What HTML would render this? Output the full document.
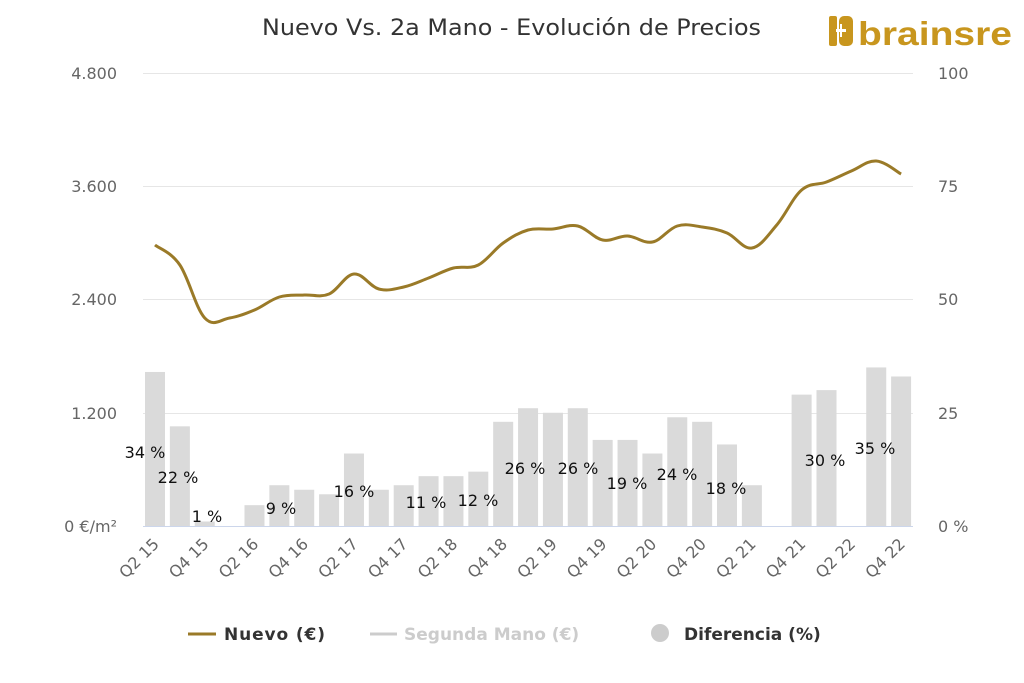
<!DOCTYPE html>
<html><head><meta charset="utf-8"><style>
html,body{margin:0;padding:0;background:#fff;}
svg{display:block;font-family:"DejaVu Sans","Liberation Sans",sans-serif;}
</style></head><body>
<svg id="c" width="1024" height="683" viewBox="0 0 1024 683" xmlns="http://www.w3.org/2000/svg">
<rect width="1024" height="683" fill="#fff"/>
<text x="262" y="35" font-size="22" fill="#333" textLength="499" lengthAdjust="spacingAndGlyphs">Nuevo Vs. 2a Mano - Evolución de Precios</text>
<g fill="#c8961e">
<rect x="829" y="16" width="8" height="30" rx="2"/>
<rect x="839" y="16" width="14" height="30" rx="5"/>
<text x="858" y="45" font-size="33" font-weight="bold" font-family="Liberation Sans,sans-serif" textLength="154" lengthAdjust="spacingAndGlyphs">brainsre</text>
</g>
<rect x="836" y="29" width="10" height="3" fill="#fff"/><rect x="840" y="24" width="2" height="13" fill="#fff"/>
<g stroke="#e6e6e6" stroke-width="1">
<line x1="143" x2="913" y1="73.5" y2="73.5"/>
<line x1="143" x2="913" y1="186.5" y2="186.5"/>
<line x1="143" x2="913" y1="299.5" y2="299.5"/>
<line x1="143" x2="913" y1="413.5" y2="413.5"/>
</g>
<g font-size="16" fill="#666" text-anchor="end">
<text x="117" y="79">4.800</text><text x="117" y="192">3.600</text><text x="117" y="305">2.400</text><text x="117" y="419">1.200</text><text x="117" y="532">0 €/m²</text>
</g>
<g font-size="16" fill="#666" text-anchor="start">
<text x="938" y="79">100</text><text x="938" y="192">75</text><text x="938" y="305">50</text><text x="938" y="419">25</text><text x="938" y="532">0 %</text>
</g>
<g id="bars" fill="#dadada"></g>
<line x1="143" x2="913" y1="526.5" y2="526.5" stroke="#ccd6eb"/>
<path id="ln" fill="none" stroke="#9a7a28" stroke-width="3" stroke-linejoin="round"/>
<g id="lbl" font-size="16" fill="#111" text-anchor="middle"></g>
<g id="xl" font-size="16" fill="#666" text-anchor="end"></g>
<g font-size="17" font-weight="bold">
<line x1="188" x2="216" y1="634" y2="634" stroke="#9a7a28" stroke-width="3"/>
<text x="224" y="640" fill="#333" textLength="101">Nuevo (€)</text>
<line x1="370" x2="397" y1="634" y2="634" stroke="#ccc" stroke-width="3"/>
<text x="404" y="640" fill="#ccc">Segunda Mano (€)</text>
<circle cx="660" cy="633" r="9" fill="#ccc"/>
<text x="684" y="640" fill="#333">Diferencia (%)</text>
</g>
</svg>
<script>
var ns="http://www.w3.org/2000/svg";
function X(i){return 155+i*24.87;}
var pct=[34,22,1,0,4.6,9,8,7,16,8,9,11,11,12,23,26,25,26,19,19,16,24,23,18,9,0,29,30,0,35,33];
var bars=document.getElementById('bars');
pct.forEach(function(p,i){if(!p)return;var h=p*4.53;var r=document.createElementNS(ns,'rect');r.setAttribute('x',X(i)-10);r.setAttribute('width',20);r.setAttribute('y',526-h);r.setAttribute('height',h);bars.appendChild(r);});
var ys=[245,265,318,318,310,297,295,294,274,289,287,278,268,265,243,230,229,226,240,236,242,226,227,233,248,225,190,182,171,161,174];
var p=[];ys.forEach(function(y,i){p.push([X(i),y]);});
var d="M"+p[0][0]+","+p[0][1];
for(var i=0;i<p.length-1;i++){var p0=p[i-1]||p[i],p1=p[i],p2=p[i+1],p3=p[i+2]||p2;var t=0.18;
d+=" C"+(p1[0]+(p2[0]-p0[0])*t)+","+(p1[1]+(p2[1]-p0[1])*t)+" "+(p2[0]-(p3[0]-p1[0])*t)+","+(p2[1]-(p3[1]-p1[1])*t)+" "+p2[0]+","+p2[1];}
document.getElementById('ln').setAttribute('d',d);
var L=[["34 %",145,458],["22 %",178,483],["1 %",207,522],["9 %",281,514],["16 %",354,497],["11 %",426,508],["12 %",478,506],["26 %",525,474],["26 %",578,474],["19 %",627,489],["24 %",677,480],["18 %",726,494],["30 %",825,466],["35 %",875,454]];
var g=document.getElementById('lbl');L.forEach(function(l){var t=document.createElementNS(ns,'text');t.setAttribute('x',l[1]);t.setAttribute('y',l[2]);t.textContent=l[0];g.appendChild(t);});
var xl=document.getElementById('xl');
for(var i=0;i<31;i+=2){var q=(i%4==0)?"Q2 ":"Q4 ";var yy=15+Math.floor((i+1)/4);
var t=document.createElementNS(ns,'text');var x=X(i)+5,y=545;t.setAttribute('x',x);t.setAttribute('y',y);t.setAttribute('transform','rotate(-45 '+x+' '+y+')');t.textContent=q+yy;xl.appendChild(t);}
</script>
</body></html>
